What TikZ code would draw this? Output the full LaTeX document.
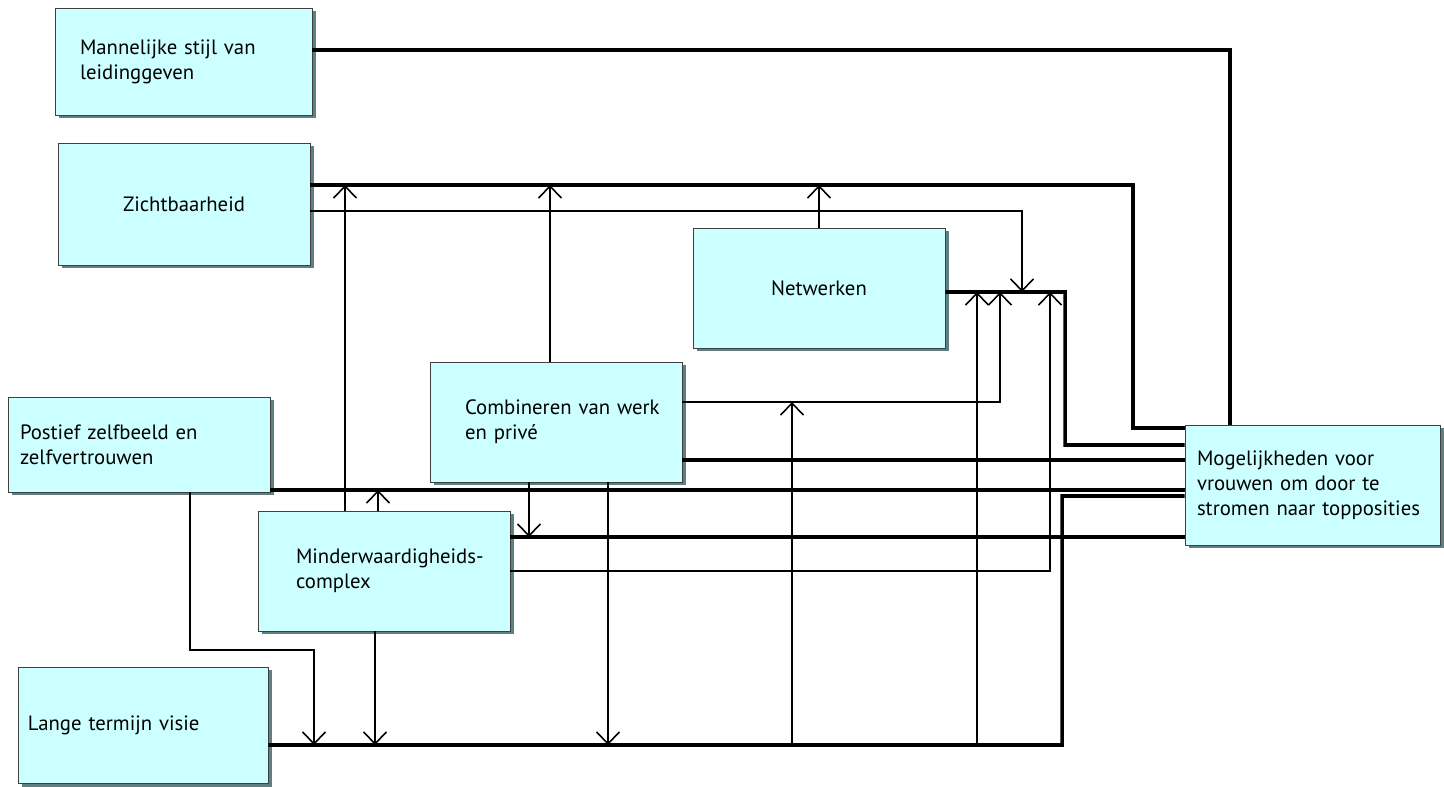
\documentclass[tikz,border=0pt]{standalone}
\usepackage{fontspec}
\setmainfont{PT Sans}
\usetikzlibrary{arrows.meta,shadows}
\definecolor{blokfill}{HTML}{CCFFFF}
\definecolor{blokrand}{HTML}{404040}
\definecolor{schaduw}{HTML}{5F8080}
\hyphenpenalty=10000
\exhyphenpenalty=10000
\hfuzz=60pt
\hbadness=10000
\begin{document}
\begin{tikzpicture}[
 blok/.style={draw=blokrand,line width=0.5pt,fill=blokfill,align=left,inner ysep=0pt,
  font=\fontsize{11.8}{14.2}\selectfont,
  drop shadow={shadow xshift=0.07cm,shadow yshift=-0.07cm,fill=schaduw,opacity=1}},
 heavy/.style={line width=2pt},
 light/.style={line width=0.75pt},
 pijl/.style={light,-{Straight Barb[length=2.4mm,width=4.6mm,line width=0.9pt]}}]
\useasboundingbox (0,0) rectangle (28.88,-15.74);
\node[blok,minimum height=2.14cm,text width=4.14cm,inner xsep=0.5cm] (man) at (3.67,-1.23) {Mannelijke~stijl~van\\leidinggeven};
\node[blok,minimum height=2.44cm,text width=4.44cm,inner xsep=0.3cm,align=center] (zicht) at (3.68,-4.08) {Zichtbaarheid};
\node[blok,minimum height=2.4cm,text width=4.44cm,inner xsep=0.3cm,align=center] (netw) at (16.38,-5.76) {Netwerken};
\node[blok,minimum height=2.4cm,text width=3.64cm,inner xsep=0.7cm] (comb) at (11.12,-8.44) {Combineren~van~werk\\en~privé};
\node[blok,minimum height=1.9cm,text width=4.76cm,inner xsep=0.24cm] (post) at (2.78,-8.89) {Postief~zelfbeeld~en\\zelfvertrouwen};
\node[blok,minimum height=2.4cm,text width=3.52cm,inner xsep=0.76cm] (minder) at (7.68,-11.42) {Minderwaardigheids-\\complex};
\node[blok,minimum height=2.32cm,text width=4.6cm,inner xsep=0.2cm] (lange) at (2.86,-14.5) {Lange~termijn~visie};
\node[blok,minimum height=2.4cm,text width=4.62cm,inner xsep=0.24cm] (mog) at (26.25,-9.7) {Mogelijkheden~voor\\vrouwen~om~door~te\\stromen~naar~topposities};
\coordinate (z1) at ([yshift=3.8mm]zicht.east);
\coordinate (zk) at (22.66,-8.56);
\coordinate (barR) at (21.3,-5.84);
\coordinate (baseR) at (21.24,-14.9);
\coordinate (b1) at (19.54,-5.84);
\coordinate (b2) at (20,-5.84);
\coordinate (b3) at (21,-5.84);
\coordinate (b4) at (20.44,-5.84);
\coordinate (cw) at (15.84,-8.04);
\coordinate (c1) at ([yshift=-7.6mm]comb.east);
\coordinate (p1) at ([yshift=-9.1mm]post.east);
\coordinate (m1) at ([yshift=6.8mm]minder.east);
\coordinate (m2) at ([xshift=-7.8mm]minder.north);
\coordinate (m3) at ([xshift=-1.2mm]minder.north);
\coordinate (m4) at ([xshift=-1.8mm]minder.south);
\coordinate (c3) at ([xshift=-1.2mm]comb.north);
\coordinate (c4) at ([xshift=-5.4mm]comb.south);
\coordinate (c5) at ([xshift=10.4mm]comb.south);
\coordinate (p2) at ([xshift=10.2mm]post.south);
\coordinate (lk) at (6.28,-13);
\draw[heavy] ([yshift=2.3mm]man.east) -| ([xshift=-1.65cm]mog.north);
\draw[heavy] (z1) -| (zk) -- (zk -| mog.west);
\draw[pijl] ([yshift=-1.4mm]zicht.east) -| (b4);
\draw[heavy] ([yshift=-0.8mm]netw.east) -- (barR) |- ([yshift=8mm]mog.west);
\draw[heavy] ([yshift=-4mm]lange.east) -- (baseR) |- ([yshift=-2.2mm]mog.west);
\draw[heavy] (c1) -- (c1 -| mog.west);
\draw[heavy] (p1) -- (p1 -| mog.west);
\draw[heavy] (m1) -- (m1 -| mog.west);
\draw[pijl] (minder.east) -| (b3);
\draw[pijl] ([yshift=4mm]comb.east) -| (b2);
\draw[pijl] (b1 |- baseR) -- (b1);
\draw[pijl] (cw |- baseR) -- (cw);
\draw[pijl] (m2) -- (m2 |- z1);
\draw[pijl] (m3) -- (m3 |- p1);
\draw[pijl] (c3) -- (c3 |- z1);
\draw[pijl] (netw.north) -- (netw.north |- z1);
\draw[pijl] (c4) -- (c4 |- m1);
\draw[pijl] (c5) -- (c5 |- baseR);
\draw[pijl] (m4) -- (m4 |- baseR);
\draw[pijl] (p2) |- (lk) -- (lk |- baseR);
\end{tikzpicture}
\end{document}
